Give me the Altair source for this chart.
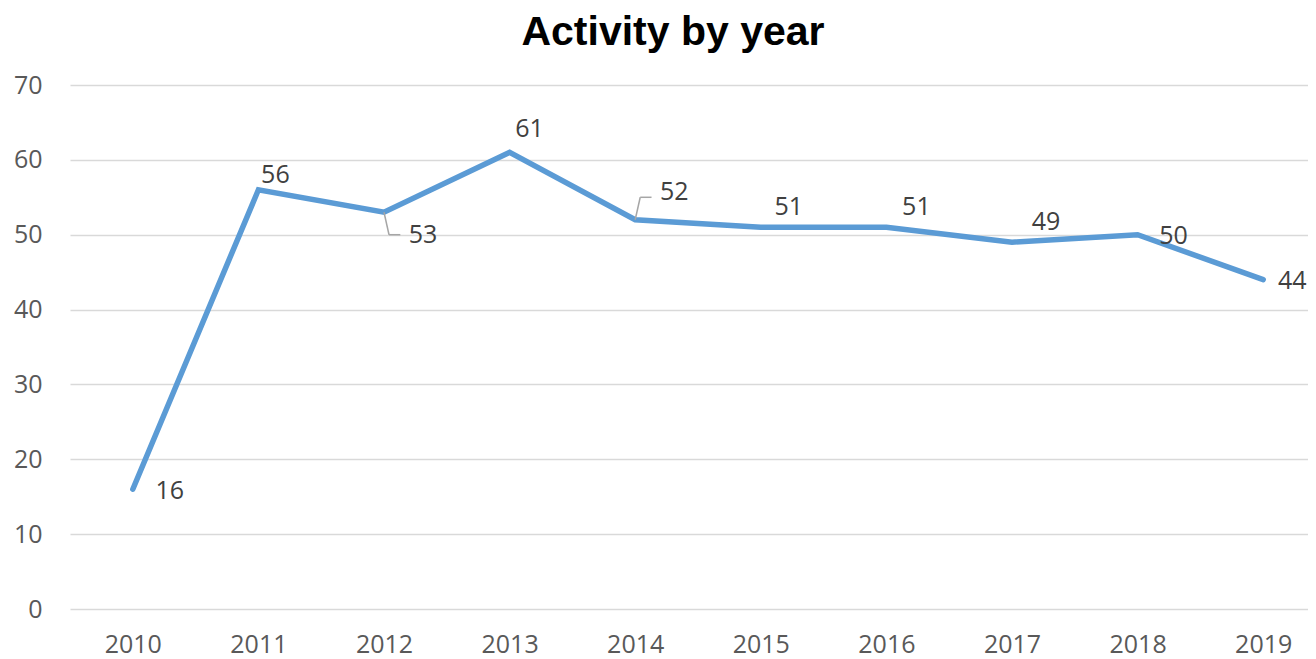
import altair as alt
import pandas as pd

years = [2010, 2011, 2012, 2013, 2014, 2015, 2016, 2017, 2018, 2019]
activity = [16, 56, 53, 61, 52, 51, 51, 49, 50, 44]

df = pd.DataFrame({"year": years, "value": activity})

W, H = 1238, 524
x_scale = alt.Scale(domain=[2009.5, 2009.5 + W / 125.6], nice=False, zero=False)
y_scale = alt.Scale(domain=[0, 70], nice=False)

base = alt.Chart(df)

line = base.mark_line(color="#5B9BD5", strokeWidth=5.5, strokeCap="round", strokeJoin="miter").encode(
    x=alt.X("year:Q", scale=x_scale,
            axis=alt.Axis(values=years, format="d", title=None, grid=False, ticks=False,
                          domain=False, labelFont="Open Sans", labelFontSize=25,
                          labelColor="#595959", labelPadding=23, labelFlush=False)),
    y=alt.Y("value:Q", scale=y_scale,
            axis=alt.Axis(values=[0, 10, 20, 30, 40, 50, 60, 70], title=None, grid=True,
                          gridColor="#D9D9D9", gridWidth=1.5, ticks=False, domain=False,
                          labelFont="Open Sans", labelFontSize=25, labelColor="#595959",
                          labelPadding=28)),
)

# label offsets (dx, dy) in pixels per year, styling only
offsets = {2010: (37, 2), 2011: (17, -15), 2012: (39, 23), 2013: (20, -23),
           2014: (39, -28), 2015: (28, -20), 2016: (30, -20), 2017: (34, -20),
           2018: (36, 1), 2019: (29, 1)}

labels = []
for yr, (dx, dy) in offsets.items():
    labels.append(
        base.transform_filter(alt.datum.year == yr).mark_text(
            font="Open Sans", fontSize=25, color="#404040", dx=dx, dy=dy,
            align="center", baseline="middle"
        ).encode(x=alt.X("year:Q", scale=x_scale),
                 y=alt.Y("value:Q", scale=y_scale),
                 text=alt.Text("value:Q"))
    )

# leader lines for the 2012 and 2014 labels
leader_years = [2012, 2014]
leader_dir = [-1, 1]
ldf = pd.DataFrame({"year": leader_years, "value": [activity[years.index(y)] for y in leader_years],
                    "dir": leader_dir})
lbase = alt.Chart(ldf).transform_calculate(
    xm="datum.year + 0.04",
    ym="datum.value + datum.dir * 3.0",
    xe="datum.year + 0.13",
)
lead1 = lbase.mark_rule(color="#A6A6A6", strokeWidth=1.5).encode(
    x=alt.X("year:Q", scale=x_scale), y=alt.Y("value:Q", scale=y_scale),
    x2="xm:Q", y2="ym:Q")
lead2 = lbase.mark_rule(color="#A6A6A6", strokeWidth=1.5).encode(
    x=alt.X("xm:Q", scale=x_scale), y=alt.Y("ym:Q", scale=y_scale),
    x2="xe:Q", y2="ym:Q")

chart = alt.layer(line, lead1, lead2, *labels).properties(
    width=W, height=H,
    background="white",
    title=alt.TitleParams("Activity by year", font="Liberation Sans", fontSize=41,
                          fontWeight="bold", color="#000000", anchor="middle", dx=-16,
                          offset=19),
    autosize=alt.AutoSizeParams(type="none"),
    padding={"left": 62, "top": 77, "right": 0, "bottom": 50},
).configure_view(stroke=None).configure_axis(domain=False)

chart.save("out.html", embed_options={"renderer": "svg", "actions": False})
